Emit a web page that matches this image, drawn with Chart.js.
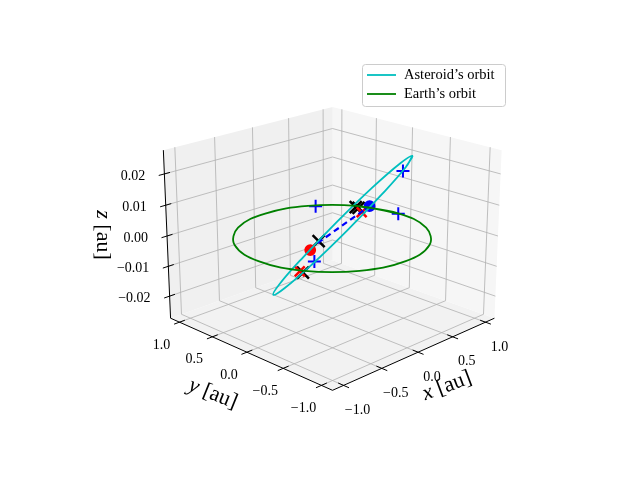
<!DOCTYPE html>
<html><head><meta charset="utf-8">
<script src="https://cdn.jsdelivr.net/npm/chart.js@4/dist/chart.umd.min.js"></script>
<style>html,body{margin:0;background:#fff}#wrap{width:640px;height:480px}</style>
</head><body><div id="wrap"><canvas id="c" width="640" height="480"></canvas></div>
<script>
// ---- data ----
const xTicks = [-1.0, -0.5, 0.0, 0.5, 1.0];
const yTicks = [-1.0, -0.5, 0.0, 0.5, 1.0];
const zTicks = [-0.02, -0.01, 0.00, 0.01, 0.02];
const xTickLabels = ["\u22121.0", "\u22120.5", "0.0", "0.5", "1.0"];
const yTickLabels = ["\u22121.0", "\u22120.5", "0.0", "0.5", "1.0"];
const zTickLabels = ["\u22120.02", "\u22120.01", "0.00", "0.01", "0.02"];
const xLim = [-1.14, 1.14], yLim = [-1.14, 1.14], zLim = [-0.0275, 0.0275];

const earthX = [1, 0.866, 0.5, 0, -0.5, -0.866, -1, -0.866, -0.5, 0, 0.5, 0.866, 1, 0.866];
const earthY = [0, 0.5, 0.866, 1, 0.866, 0.5, 0, -0.5, -0.866, -1, -0.866, -0.5, 0, 0.5];
const earthZ = [0, 0, 0, 0, 0, 0, 0, 0, 0, 0, 0, 0, 0, 0];

const astX = [0.72, 0.617, 0.384, 0.085, -0.201, -0.397, -0.45, -0.347, -0.114, 0.185, 0.471, 0.667, 0.72, 0.617];
const astY = [-0.42, -0.428, -0.323, -0.135, 0.087, 0.283, 0.40, 0.408, 0.303, 0.115, -0.106, -0.303, -0.42, -0.428];
const astZ = [0.025, 0.022, 0.0138, 0.0025, -0.0088, -0.017, -0.02, -0.017, -0.0088, 0.0025, 0.0138, 0.022, 0.025, 0.022];

const bluePlusX = [0.55, 0.99, -0.63, 0.65];
const bluePlusY = [0.80, 0.00, -0.39, -0.36];
const bluePlusZ = [0, 0, 0, 0.02];
const redXX = [-0.909, 0.753], redXY = [-0.479, 0.309], redXZ = [0, 0];
const blackXX = [-0.908, -0.197, 0.833, 0.833], blackXY = [-0.521, -0.007, 0.474, 0.432], blackXZ = [0, 0, 0, 0];
const blueDot = [0.96, 0.39, 0];
const redDot = [-0.437, -0.134, 0];
const dashX = [-0.245, 0.807], dashY = [-0.041, 0.336], dashZ = [0, 0];

// ---- projection ----
const ELEV = 20 * Math.PI / 180, AZ = -135 * Math.PI / 180, DIST = 6, S = 234, CX = 332.5, CY = 236, ZH = 0.764;
function proj(x, y, z) {
  const X = (x - xLim[0]) / (xLim[1] - xLim[0]) - 0.5;
  const Y = (y - yLim[0]) / (yLim[1] - yLim[0]) - 0.5;
  const Z = ((z - zLim[0]) / (zLim[1] - zLim[0]) - 0.5) * ZH;
  const r = [-Math.sin(AZ), Math.cos(AZ), 0];
  const up = [-Math.sin(ELEV) * Math.cos(AZ), -Math.sin(ELEV) * Math.sin(AZ), Math.cos(ELEV)];
  const d = [Math.cos(ELEV) * Math.cos(AZ), Math.cos(ELEV) * Math.sin(AZ), Math.sin(ELEV)];
  const depth = X * d[0] + Y * d[1] + Z * d[2];
  const f = DIST / (DIST - depth);
  return { x: CX + S * f * (X * r[0] + Y * r[1]), y: CY - S * f * (X * up[0] + Y * up[1] + Z * up[2]) };
}
const pts = (xs, ys, zs) => xs.map((v, i) => proj(v, ys[i], zs[i]));

// ---- background plugin ----
const FONT = '"Liberation Serif", serif';
const axes3d = {
  id: 'axes3d',
  beforeDatasetsDraw(chart) {
    const c = chart.ctx;
    const [x0, x1] = xLim, [y0, y1] = yLim, [z0, z1] = zLim;
    const poly = (arr, fill) => {
      c.beginPath(); arr.forEach((p, i) => { const q = proj(...p); i ? c.lineTo(q.x, q.y) : c.moveTo(q.x, q.y); });
      c.closePath(); c.fillStyle = fill; c.fill();
    };
    c.save();
    poly([[x0, y0, z0], [x1, y0, z0], [x1, y1, z0], [x0, y1, z0]], 'rgba(242,242,242,1)');
    poly([[x1, y0, z0], [x1, y1, z0], [x1, y1, z1], [x1, y0, z1]], 'rgba(246,246,246,1)');
    poly([[x0, y1, z0], [x1, y1, z0], [x1, y1, z1], [x0, y1, z1]], 'rgba(240,240,240,1)');
    const line = (a, b, col, w) => {
      const p = proj(...a), q = proj(...b);
      c.beginPath(); c.moveTo(p.x, p.y); c.lineTo(q.x, q.y); c.strokeStyle = col; c.lineWidth = w; c.stroke();
    };
    const g = '#b0b0b0';
    xTicks.forEach(t => { line([t, y0, z0], [t, y1, z0], g, 0.8); line([t, y1, z0], [t, y1, z1], g, 0.8); });
    yTicks.forEach(t => { line([x0, t, z0], [x1, t, z0], g, 0.8); line([x1, t, z0], [x1, t, z1], g, 0.8); });
    zTicks.forEach(t => { line([x1, y0, t], [x1, y1, t], g, 0.8); line([x0, y1, t], [x1, y1, t], g, 0.8); });
    line([x0, y0, z0], [x1, y0, z0], '#000', 1);
    line([x0, y0, z0], [x0, y1, z0], '#000', 1);
    line([x0, y1, z0], [x0, y1, z1], '#000', 1);
    const dy = (y1 - y0) * 0.03, dx = (x1 - x0) * 0.03;
    c.fillStyle = '#000'; c.font = '14px ' + FONT; c.textBaseline = 'middle';
    xTicks.forEach((t, i) => {
      line([t, y0 - dy, z0], [t, y0 + dy, z0], '#000', 1);
      const p = proj(t, y0, z0); c.textAlign = 'center'; c.fillText(xTickLabels[i], p.x + 14, p.y + 25);
    });
    yTicks.forEach((t, i) => {
      line([x0 - dx, t, z0], [x0 + dx, t, z0], '#000', 1);
      const p = proj(x0, t, z0); c.textAlign = 'center'; c.fillText(yTickLabels[i], p.x - 18, p.y + 23);
    });
    zTicks.forEach((t, i) => {
      line([x0 - dx, y1, t], [x0 + dx, y1, t], '#000', 1);
      const p = proj(x0, y1, t); c.textAlign = 'right'; c.fillText(zTickLabels[i], p.x - 19, p.y + 2);
    });
    const lab = (txt, x, y, rot) => {
      c.save(); c.translate(x, y); c.rotate(rot);
      c.font = 'italic 22px ' + FONT;
      const w1 = c.measureText(txt[0] + ' ').width;
      c.font = '22px ' + FONT;
      const w2 = c.measureText(txt[1]).width;
      const sx = -(w1 + w2) / 2;
      c.textAlign = 'left';
      c.font = 'italic 22px ' + FONT; c.fillText(txt[0], sx, 0);
      c.font = '22px ' + FONT; c.fillText(txt[1], sx + w1, 0);
      c.restore();
    };
    lab(['x', '[au]'], 447, 386, -0.36);
    lab(['y', '[au]'], 213, 394, 0.38);
    lab(['z', '[au]'], 103, 235, Math.PI / 2);
    c.restore();
  },
  afterDraw(chart) {
    const c = chart.ctx;
    c.save();
    c.beginPath(); c.roundRect(362.5, 64.5, 143, 42, 3);
    c.fillStyle = 'rgba(255,255,255,0.85)'; c.fill(); c.strokeStyle = '#cccccc'; c.lineWidth = 1; c.stroke();
    const items = [['Asteroid\u2019s orbit', '#00bfbf', 75], ['Earth\u2019s orbit', '#008000', 94]];
    c.font = '14.5px ' + FONT; c.textBaseline = 'middle'; c.textAlign = 'left';
    items.forEach(([t, col, y]) => {
      c.beginPath(); c.moveTo(367, y); c.lineTo(396, y); c.strokeStyle = col; c.lineWidth = 1.8; c.stroke();
      c.fillStyle = '#000'; c.fillText(t, 404, y);
    });
    c.restore();
  }
};

const ds = (data, o) => Object.assign({ data, showLine: false, pointRadius: 0, borderWidth: 1.8 }, o);
new Chart(document.getElementById('c'), {
  type: 'scatter',
  data: { datasets: [
    ds(pts(earthX, earthY, earthZ), { showLine: true, borderColor: '#008000', tension: 0.4 }),
    ds(pts(astX, astY, astZ), { showLine: true, borderColor: '#00bfbf', tension: 0.4 }),
    ds(pts(dashX, dashY, dashZ), { showLine: true, borderColor: '#0000ff', borderDash: [6, 4], borderWidth: 2.2 }),
    ds(pts(bluePlusX, bluePlusY, bluePlusZ), { pointStyle: 'cross', pointRadius: 6.5, borderColor: '#0000ff', borderWidth: 2 }),
    ds([proj(...blueDot)], { pointStyle: 'circle', pointRadius: 5, backgroundColor: '#0000ff', borderColor: '#0000ff' }),
    ds([proj(...redDot)], { pointStyle: 'circle', pointRadius: 5, backgroundColor: '#ff0000', borderColor: '#ff0000' }),
    ds(pts(redXX, redXY, redXZ), { pointStyle: 'crossRot', pointRadius: 7, borderColor: '#ff0000', borderWidth: 2.5 }),
    ds(pts(blackXX, blackXY, blackXZ), { pointStyle: 'crossRot', pointRadius: 8.5, borderColor: '#000000', borderWidth: 2.5 })
  ] },
  options: {
    responsive: false, animation: false, events: [],
    layout: { padding: 0 },
    plugins: { legend: { display: false }, tooltip: { enabled: false } },
    scales: {
      x: { type: 'linear', min: 0, max: 640, display: false },
      y: { type: 'linear', min: 0, max: 480, reverse: true, display: false }
    }
  },
  plugins: [axes3d]
});
</script></body></html>
